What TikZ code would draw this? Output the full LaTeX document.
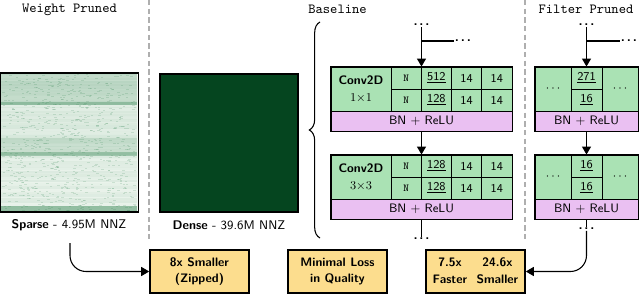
\documentclass[tikz,border=0pt]{standalone}
\usetikzlibrary{arrows.meta,decorations.pathreplacing,calc}
\definecolor{cellgreen}{RGB}{170,226,180}
\definecolor{cellpink}{RGB}{234,192,242}
\definecolor{boxyellow}{RGB}{252,221,142}
\definecolor{densegreen}{RGB}{5,69,31}
\definecolor{sparsebg}{RGB}{242,248,242}
\definecolor{sparseln}{RGB}{40,125,72}
\definecolor{dashgray}{RGB}{175,175,175}
\begin{document}
\begin{tikzpicture}[x=0.75pt,y=-0.75pt,
  font=\sffamily\fontsize{9.4}{11}\selectfont,
  cellbox/.style={draw=black, line width=0.7pt, fill=cellgreen, inner sep=0pt,
    minimum width=22.69pt, minimum height=16.5pt, font=\sffamily\fontsize{9}{10}\selectfont},
  ncell/.style={cellbox, font=\ttfamily\fontsize{8}{9}\selectfont},
  convcell/.style={cellbox, minimum width=45pt, minimum height=33pt, align=center,
    font=\sffamily\fontsize{9.2}{12.5}\selectfont},
  bnbox/.style={draw=black, line width=0.7pt, fill=cellpink, inner sep=0pt,
    minimum width=135.75pt, minimum height=15pt, font=\sffamily\fontsize{9.2}{10}\selectfont},
  fbnbox/.style={bnbox, minimum width=77.25pt},
  sidecell/.style={cellbox, minimum width=27pt, minimum height=33pt},
  midcell/.style={cellbox, minimum width=23.25pt},
  outline/.style={draw=black, line width=1.2pt},
  ybox/.style={draw=black, line width=1.2pt, fill=boxyellow, inner sep=0pt,
    minimum width=74.25pt, minimum height=32.25pt, align=center,
    font=\sffamily\bfseries\fontsize{9.2}{12}\selectfont},
  title/.style={inner sep=1pt, font=\ttfamily\fontsize{10.4}{12}\selectfont},
  dotnode/.style={inner sep=0.5pt, font=\sffamily\bfseries\fontsize{10}{10}\selectfont},
  arr/.style={-{Triangle[length=6pt,width=6.8pt]}, line width=0.8pt},
  conn/.style={line width=0.8pt},
  sepline/.style={draw=dashgray, line width=0.9pt, dash pattern=on 4pt off 2.5pt}
]
\useasboundingbox (0,0) rectangle (640,296);
\newcommand{\dts}{.\kern1.4pt.\kern1.4pt.}

% separators
\draw[sepline] (149,0) -- (149,240);
\draw[sepline] (525,0) -- (525,240);

% titles
\node[title] (tw) at (69.5,9.5) {Weight Pruned};
\node[title] (tb) at (337.5,9.5) {Baseline};
\node[title] (tf) at (586,9.5) {Filter Pruned};

% sparse matrix picture
\fill[sparsebg] (0,73) rectangle (138,212);
\pgfmathsetseed{7}
\foreach \yy in {74,75.5,...,211}{
  \pgfmathsetmacro{\op}{(\yy<102)*0.22+(\yy>=102)*(\yy<105)*0.48+(\yy>=105)*(\yy<138)*0.07+(\yy>=138)*(\yy<151)*0.19+(\yy>=151)*(\yy<156)*0.40+(\yy>=156)*(\yy<206)*0.04+(\yy>=206)*0.45+rnd*0.07}
  \fill[sparseln, opacity=\op] (1,\yy) rectangle (137,\yy+1.5);
}
\foreach \k in {1,...,800}{
  \pgfmathsetmacro{\xx}{rnd*132+2}
  \pgfmathsetmacro{\yq}{rnd*136+74}
  \fill[sparseln, opacity=0.16] (\xx,\yq) rectangle ++(2.5,0.7);
}
\node[outline, inner sep=0pt, minimum width=103.5pt, minimum height=104.25pt] (sparse) at (69.5,142.5) {};
\node[outline, fill=densegreen, inner sep=0pt, minimum width=103.5pt, minimum height=103.5pt] (dense) at (229,143) {};

\node (sparselbl) at (69,225) {\textbf{Sparse} - 4.95M NNZ};
\node (denselbl) at (229,225) {\textbf{Dense} - 39.6M NNZ};

% brace
\draw[decorate, decoration={brace, amplitude=8pt}, line width=0.8pt] (320,238) -- (320,22);

% baseline block 1
\node[convcell] (conv1) at (361,89) {\textbf{Conv2D}\\$1{\times}1$};
\node[ncell] (n1a) at (406.125,78) {N};
\node[ncell] (n1b) at (406.125,100) {N};
\node[cellbox] (c1a) at (436.375,78) {\underline{512}};
\node[cellbox] (c1b) at (436.375,100) {\underline{128}};
\node[cellbox] (d1a) at (466.625,78) {14};
\node[cellbox] (d1b) at (466.625,100) {14};
\node[cellbox] (e1a) at (496.875,78) {14};
\node[cellbox] (e1b) at (496.875,100) {14};
\node[bnbox] (bn1) at (421.5,121) {BN + ReLU};
\draw[outline] (conv1.north west) rectangle (bn1.south east);

% baseline block 2
\node[convcell] (conv2) at (361,177) {\textbf{Conv2D}\\$3{\times}3$};
\node[ncell] (n2a) at (406.125,166) {N};
\node[ncell] (n2b) at (406.125,188) {N};
\node[cellbox] (c2a) at (436.375,166) {\underline{128}};
\node[cellbox] (c2b) at (436.375,188) {\underline{128}};
\node[cellbox] (d2a) at (466.625,166) {14};
\node[cellbox] (d2b) at (466.625,188) {14};
\node[cellbox] (e2a) at (496.875,166) {14};
\node[cellbox] (e2b) at (496.875,188) {14};
\node[bnbox] (bn2) at (421.5,209) {BN + ReLU};
\draw[outline] (conv2.north west) rectangle (bn2.south east);

% baseline connectors
\node[dotnode] (bt) at (421.5,25) {\dts};
\coordinate (bj) at (421.5,41);
\node[dotnode, anchor=west] (br) at (454,41) {\dts};
\draw[arr] (bt.south) -- (bt.south |- c1a.north);
\draw[conn] (bj) -- (br.west);
\draw[arr] (bn1.south) -- (bn1.south |- c2a.north);
\node[dotnode] (bb) at (421.5,239) {\dts};
\draw[conn] (bn2.south) -- (bb.north);

% filter pruned block 1
\node[sidecell] (fl1) at (553,89) {$\cdots$};
\node[midcell] (fm1a) at (586.5,78) {\underline{271}};
\node[midcell] (fm1b) at (586.5,100) {\underline{16}};
\node[sidecell] (fr1) at (620,89) {$\cdots$};
\node[fbnbox] (fbn1) at (586.5,121) {BN + ReLU};
\draw[outline] (fl1.north west) rectangle (fbn1.south east);

% filter pruned block 2
\node[sidecell] (fl2) at (553,177) {$\cdots$};
\node[midcell] (fm2a) at (586.5,166) {\underline{16}};
\node[midcell] (fm2b) at (586.5,188) {\underline{16}};
\node[sidecell] (fr2) at (620,177) {$\cdots$};
\node[fbnbox] (fbn2) at (586.5,209) {BN + ReLU};
\draw[outline] (fl2.north west) rectangle (fbn2.south east);

% filter connectors
\node[dotnode] (ft) at (586.5,25) {\dts};
\coordinate (fj) at (586.5,41);
\node[dotnode, anchor=west] (fr) at (620,41) {\dts};
\draw[arr] (ft.south) -- (fm1a.north);
\draw[conn] (fj) -- (fr.west);
\draw[arr] (fbn1.south) -- (fm2a.north);
\node[dotnode] (fb) at (586.5,229) {\dts};
\draw[conn] (fbn2.south) -- (fb.north);

% result boxes
\node[ybox] (zip) at (199.5,271.5) {8x Smaller\\(Zipped)};
\node[ybox] (loss) at (337.5,271.5) {Minimal Loss\\in Quality};
\node[ybox] (fast) at (475.5,271.5) {\renewcommand{\arraystretch}{1.1}\begin{tabular}{@{}c@{\hspace{7pt}}c@{}}7.5x & 24.6x\\Faster & Smaller\end{tabular}};

\coordinate (sstart) at (70,243);
\draw[arr, rounded corners=12pt] (sstart) |- (zip.west);
\draw[arr, rounded corners=12pt] (fb.south) |- (fast.east);
\end{tikzpicture}
\end{document}
